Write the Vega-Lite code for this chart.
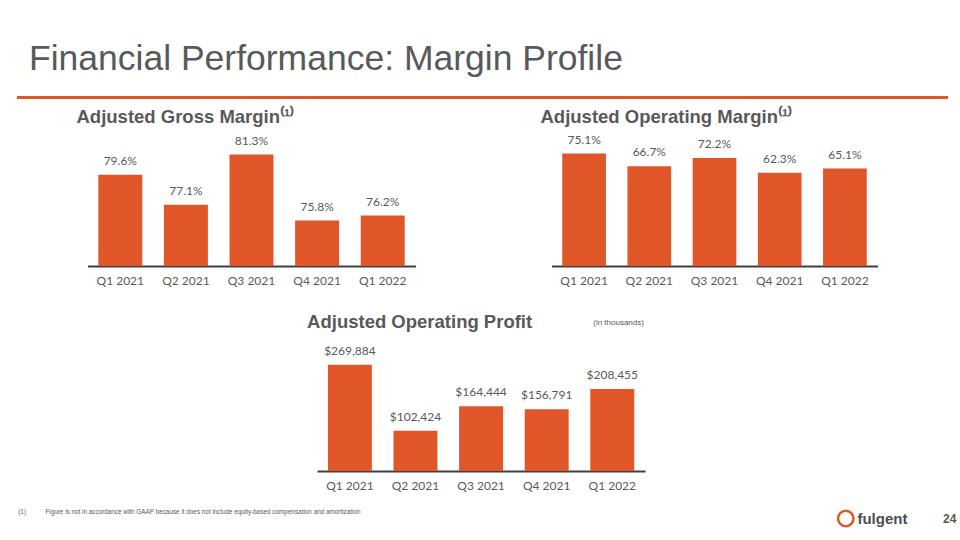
{
  "$schema": "https://vega.github.io/schema/vega-lite/v6.json",
  "background": "white",
  "padding": {"left": 8.5, "top": 42, "right": 0, "bottom": 0},
  "config": {
    "view": {"stroke": null},
    "font": "Liberation Sans",
    "axisX": {"domainColor": "#404040", "domainWidth": 2, "ticks": false, "labelPadding": 9, "labelFont": "Lato", "labelFontSize": 12, "labelColor": "#595959", "grid": false, "labelAngle": 0},
    "title": {"color": "#595959", "font": "Liberation Sans"}
  },
  "datasets": {
    "gross": [
      {"quarter": "Q1 2021", "value": 79.6, "label": "79.6%"},
      {"quarter": "Q2 2021", "value": 77.1, "label": "77.1%"},
      {"quarter": "Q3 2021", "value": 81.3, "label": "81.3%"},
      {"quarter": "Q4 2021", "value": 75.8, "label": "75.8%"},
      {"quarter": "Q1 2022", "value": 76.2, "label": "76.2%"}
    ],
    "opmargin": [
      {"quarter": "Q1 2021", "value": 75.1, "label": "75.1%"},
      {"quarter": "Q2 2021", "value": 66.7, "label": "66.7%"},
      {"quarter": "Q3 2021", "value": 72.2, "label": "72.2%"},
      {"quarter": "Q4 2021", "value": 62.3, "label": "62.3%"},
      {"quarter": "Q1 2022", "value": 65.1, "label": "65.1%"}
    ],
    "opprofit": [
      {"quarter": "Q1 2021", "value": 269884},
      {"quarter": "Q2 2021", "value": 102424},
      {"quarter": "Q3 2021", "value": 164444},
      {"quarter": "Q4 2021", "value": 156791},
      {"quarter": "Q1 2022", "value": 208455}
    ],
    "logo": [
      {"part": "ring", "text": ""},
      {"part": "fulgent", "text": "fulgent"},
      {"part": "24", "text": "24"}
    ]
  },
  "spacing": 27,
  "center": true,
  "vconcat": [
    {
      "spacing": 4,
      "center": true,
      "vconcat": [
        {
          "width": 931,
          "height": 3,
          "view": {"fill": "#E05628", "stroke": null},
          "data": {"values": [{"t": ""}]},
          "mark": {"type": "text"},
          "encoding": {"text": {"field": "t"}},
          "title": {"text": "Financial Performance: Margin Profile", "anchor": "start", "frame": "group", "dx": 12, "offset": 14, "fontSize": 35.5, "fontWeight": "normal", "color": "#58595B"}
        },
        {
          "spacing": 125,
          "hconcat": [
            {
              "width": 328,
              "height": 135,
              "data": {"name": "gross"},
              "title": {"text": "Adjusted Gross Margin⁽¹⁾", "anchor": "start", "frame": "group", "dx": -11, "offset": 5, "fontSize": 18.5, "fontWeight": "bold"},
              "encoding": {
                "x": {"field": "quarter", "type": "nominal", "sort": null, "scale": {"paddingInner": 0.33, "paddingOuter": 0.165}, "axis": {"title": null}},
                "y": {"field": "value", "type": "quantitative", "scale": {"domain": [72, 83.25], "zero": false, "nice": false, "clamp": true}, "axis": null}
              },
              "layer": [
                {"mark": {"type": "bar", "color": "#E05628"}},
                {"mark": {"type": "text", "dy": -13.5, "font": "Lato", "fontSize": 12, "color": "#595959"}, "encoding": {"text": {"field": "label"}}}
              ]
            },
            {
              "width": 326,
              "height": 135,
              "data": {"name": "opmargin"},
              "title": {"text": "Adjusted Operating Margin⁽¹⁾", "anchor": "start", "frame": "group", "dx": -11, "offset": 5, "fontSize": 18.5, "fontWeight": "bold"},
              "encoding": {
                "x": {"field": "quarter", "type": "nominal", "sort": null, "scale": {"paddingInner": 0.33, "paddingOuter": 0.165}, "axis": {"title": null}},
                "y": {"field": "value", "type": "quantitative", "scale": {"domain": [0, 90.2], "nice": false}, "axis": null}
              },
              "layer": [
                {"mark": {"type": "bar", "color": "#E05628"}},
                {"mark": {"type": "text", "dy": -14, "font": "Lato", "fontSize": 12, "color": "#595959"}, "encoding": {"text": {"field": "label"}}}
              ]
            }
          ]
        }
      ]
    },
    {
      "spacing": 11.5,
      "center": true,
      "vconcat": [
        {
          "width": 331,
          "height": 130,
          "data": {"name": "opprofit"},
          "title": {"text": "Adjusted Operating Profit", "anchor": "start", "frame": "group", "dx": -10, "offset": -13.5, "fontSize": 18.5, "fontWeight": "bold"},
          "encoding": {
            "x": {"field": "quarter", "type": "nominal", "sort": null, "scale": {"range": [0, 328], "paddingInner": 0.33, "paddingOuter": 0.165}, "axis": {"title": null}},
            "y": {"field": "value", "type": "quantitative", "scale": {"domain": [0, 330000], "nice": false}, "axis": {"orient": "right", "labels": false, "ticks": false, "domain": false, "grid": false, "title": "(in thousands)", "titleAngle": 0, "titleFont": "Liberation Sans", "titleFontSize": 8, "titleFontWeight": "normal", "titleColor": "#595959", "titleAlign": "center", "titleBaseline": "middle", "titleX": -30, "titleY": -19}}
          },
          "layer": [
            {"mark": {"type": "bar", "color": "#E05628"}},
            {"mark": {"type": "text", "dy": -14, "font": "Lato", "fontSize": 12, "color": "#595959"}, "encoding": {"text": {"field": "value", "type": "quantitative", "format": "$,"}}}
          ]
        },
        {
          "spacing": 20,
          "hconcat": [
            {
              "width": 803.5,
              "height": 1,
              "data": {"values": [{"t": ""}]},
              "mark": {"type": "text"},
              "encoding": {"text": {"field": "t"}},
              "title": {"text": "(1)\u00a0\u00a0\u00a0\u00a0\u00a0\u00a0\u00a0\u00a0\u00a0\u00a0\u00a0Figure is not in accordance with GAAP because it does not include equity-based compensation and amortization", "anchor": "start", "frame": "group", "dx": 9.5, "offset": -12, "fontSize": 6.35, "fontWeight": "normal", "color": "#595959"}
            },
            {
              "width": 104,
              "height": 20,
              "data": {"name": "logo"},
              "encoding": {
                "x": {"field": "part", "type": "nominal", "scale": {"type": "point", "domain": ["ring", "fulgent", " ", "24"], "padding": 0}, "axis": null}
              },
              "layer": [
                {"transform": [{"filter": "datum.part === 'ring'"}], "mark": {"type": "point", "shape": "circle", "filled": false, "color": "#E05628", "strokeWidth": 2.5, "size": 240, "opacity": 1}},
                {"transform": [{"filter": "datum.part === 'fulgent'"}], "mark": {"type": "text", "fontSize": 15, "fontWeight": "bold", "color": "#4D4D4F", "dx": 2}, "encoding": {"text": {"field": "text"}}},
                {"transform": [{"filter": "datum.part === '24'"}], "mark": {"type": "text", "fontSize": 12, "fontWeight": "bold", "color": "#595959"}, "encoding": {"text": {"field": "text"}}}
              ]
            }
          ]
        }
      ]
    }
  ]
}
